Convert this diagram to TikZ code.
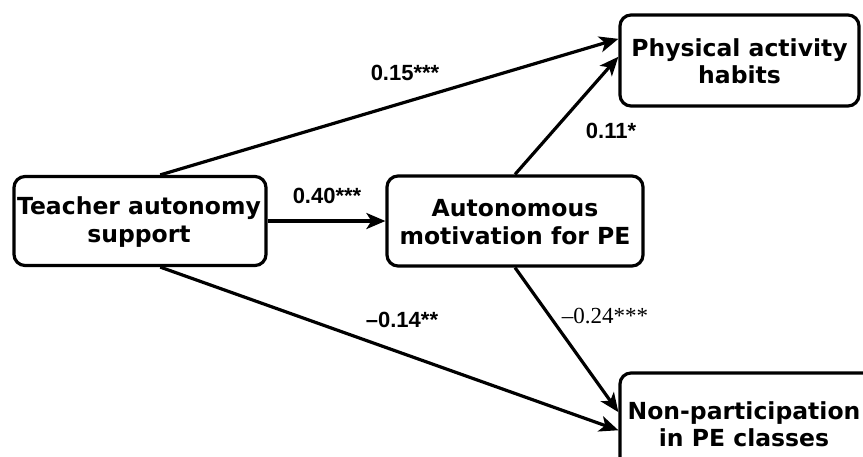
\documentclass[tikz,border=0pt]{standalone}
\usepackage{fontspec}
\setmainfont{DejaVu Sans}
\newfontfamily\labfont{Liberation Sans}
\newfontfamily\serlab{Liberation Serif}
\usetikzlibrary{arrows.meta,calc}
\tikzset{
  boxnode/.style={draw, line width=3.2pt, rounded corners=11pt, inner sep=0pt},
  boxtext/.style={align=center, font=\fontsize{23.5}{27.5}\selectfont\bfseries},
  arr/.style={line width=3.2pt, -{Stealth[length=19pt,width=16pt,inset=5pt]}},
  lab/.style={font=\fontsize{22}{26}\selectfont\labfont\bfseries, inner sep=1pt},
  slab/.style={font=\fontsize{23}{26}\selectfont\serlab, inner sep=1pt}
}
\begin{document}
\begin{tikzpicture}[x=1pt,y=-1pt]
\useasboundingbox (0,0) rectangle (863,456);
\clip (0,0) rectangle (863,456);
% boxes
\node[boxnode, minimum width=252pt, minimum height=89pt] (tas) at (140,221) {};
\node[boxtext] at (139,222) {Teacher autonomy\\support};
\node[boxnode, minimum width=256pt, minimum height=90pt] (amp) at (515,221) {};
\node[boxtext] at (515,222) {Autonomous\\motivation for PE};
\node[boxnode, minimum width=239pt, minimum height=91pt] (pah) at (739.5,60.5) {};
\node[boxtext] at (739.5,61) {Physical activity\\habits};
\node[boxnode, minimum width=270pt, minimum height=110pt] (npe) at (755,428) {};
\node[boxtext] at (744,424) {Non-participation\\in PE classes};
% anchor points
\coordinate (t1) at ($(tas.north west)!0.5794!(tas.north east)$);
\coordinate (t2) at ($(tas.south west)!0.5794!(tas.south east)$);
\coordinate (p1) at ($(pah.north west)!0.27!(pah.south west)$);
\coordinate (p2) at ($(pah.north west)!0.46!(pah.south west)$);
\coordinate (n1) at ($(npe.north west)!0.36!(npe.south west)$);
\coordinate (n2) at ($(npe.north west)!0.52!(npe.south west)$);
% connectors
\draw[arr] (t1) -- (p1);
\draw[arr] (amp.north) -- (p2);
\draw[arr] (tas.east) -- (amp.west);
\draw[arr] (t2) -- (n2);
\draw[arr] (amp.south) -- (n1);
% labels
\node[lab] (l1) at (405,73) {0.15***};
\node[lab] (l2) at (611,131) {0.11*};
\node[lab] (l3) at (327,196) {0.40***};
\node[lab] (l4) at (402,320) {–0.14**};
\node[slab] (l5) at (605,316) {–0.24***};
\end{tikzpicture}
\end{document}
